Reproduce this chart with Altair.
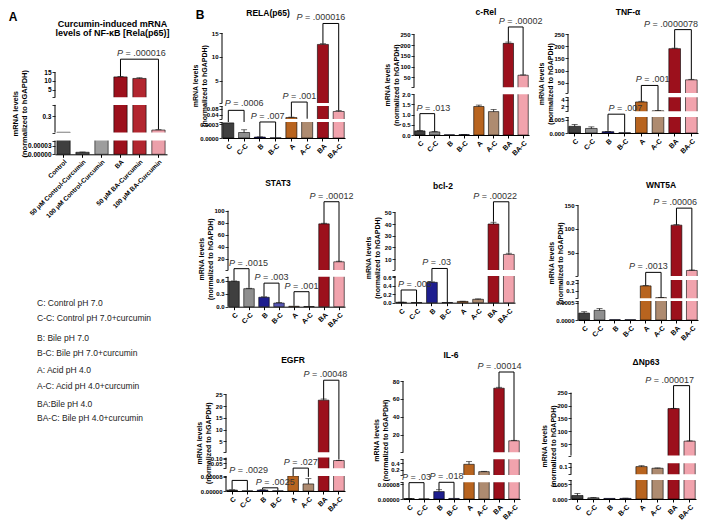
import altair as alt
import pandas as pd

FONT = "Liberation Sans, Arial, Helvetica, sans-serif"

# ---------------- data ----------------
CATS = ["C", "C-C", "B", "B-C", "A", "A-C", "BA", "BA-C"]
COLORS = ["#3f3f3f", "#8f8f8f", "#1e1e8e", "#5656b4", "#b8641f", "#ae8b70", "#9c101c", "#f1a3ad"]

A_CATS = ["Control", "50 μM Control-Curcumin", "100 μM Control-Curcumin",
          "BA", "50 μM BA-Curcumin", "100 μM BA-Curcumin"]
A_COLORS = ["#3f3f3f", "#4e4e4e", "#9d9d9d", "#9c101c", "#b2262f", "#eba0aa"]
A_VALS = [0.055, 0.000007, 0.01, 12.3, 11.4, 0.09]
A_ERRS = [0, 0.000001, 0, 0.2, 0.4, 0.005]
A_TICKS = [0, 0.00003, 0.3, 5, 10, 15]
A_TICK_LABELS = ["0.00000", "0.00003", "0.3", "5", "10", "15"]
A_BRACKETS = [("BA", "100 μM BA-Curcumin", 22.5, 12.6, 0.1, ".000016")]

RELA_VALS = [0.00033, 0.00012, 0.00002, 0.000004, 0.02, 0.005, 12.6, 0.062]
RELA_ERRS = [0, 0.00006, 0.000005, 0, 0.003, 0, 0.15, 0.006]
RELA_TICKS = [0, 0.0003, 0.04, 0.08, 5, 10, 15]
RELA_TICK_LABELS = ["0.0000", "0.0003", "0.04", "0.08", "5", "10", "15"]
RELA_BRACKETS = [("C", "C-C", 0.07, 0.00035, 0.0004, ".0006"),
                 ("B", "B-C", 0.0004, 0.00003, 0.000005, ".007"),
                 ("A", "A-C", 0.5, 0.025, 0.012, ".001"),
                 ("BA", "BA-C", 17, 12.8, 0.07, ".000016")]

CREL_VALS = [0.2, 0.15, 0.01, 0.02, 1.4, 1.15, 208, 60]
CREL_ERRS = [0.02, 0.02, 0, 0.005, 0.07, 0.1, 6, 2]
CREL_TICKS = [0, 0.5, 1.0, 1.5, 2.0, 50, 100, 150, 200, 250]
CREL_TICK_LABELS = ["0.0", "0.5", "1.0", "1.5", "2.0", "50", "100", "150", "200", "250"]
CREL_BRACKETS = [("C", "C-C", 1.05, 0.23, 0.18, ".013"),
                 ("BA", "BA-C", 284, 215, 63, ".00002")]

TNF_VALS = [0.0025, 0.0017, 0.0005, 0.0001, 3.3, 0.65, 190, 62]
TNF_ERRS = [0.0007, 0.0006, 0.0001, 0, 0.2, 0.05, 2, 2]
TNF_TICKS = [0, 0.005, 2, 4, 50, 100, 150, 200, 250]
TNF_TICK_LABELS = ["0.000", "0.005", "2", "4", "50", "100", "150", "200", "250"]
TNF_BRACKETS = [("B", "B-C", 0.25, 0.0008, 0.0002, ".007"),
                ("A", "A-C", 39, 3.6, 0.75, ".001"),
                ("BA", "BA-C", 268, 193, 65, ".0000078")]

STAT3_VALS = [0.59, 0.42, 0.22, 0.085, 0.01, 0.005, 78, 14.5]
STAT3_ERRS = [0.01, 0.01, 0.01, 0.01, 0, 0, 1, 1]
STAT3_TICKS = [0, 0.3, 0.6, 20, 40, 60, 80, 100]
STAT3_TICK_LABELS = ["0.0", "0.3", "0.6", "20", "40", "60", "80", "100"]
STAT3_BRACKETS = [("C", "C-C", 3, 0.61, 0.44, ".0015"),
                  ("B", "B-C", 0.55, 0.24, 0.1, ".003"),
                  ("A", "A-C", 0.35, 0.02, 0.01, ".001"),
                  ("BA", "BA-C", 115, 79, 15.5, ".00012")]

BCL2_VALS = [0.01, 0.005, 0.48, 0.005, 0.03, 0.08, 40, 14]
BCL2_ERRS = [0.003, 0, 0.01, 0, 0.005, 0.01, 1.5, 1]
BCL2_TICKS = [0, 0.2, 0.4, 0.6, 10, 20, 30, 40, 50]
BCL2_TICK_LABELS = ["0.0", "0.2", "0.4", "0.6", "10", "20", "30", "40", "50"]
BCL2_BRACKETS = [("C", "C-C", 0.3, 0.02, 0.01, ".005"),
                 ("B", "B-C", 2, 0.5, 0.01, ".03"),
                 ("BA", "BA-C", 59, 42, 15.5, ".00022")]

WNT_VALS = [0.0002, 0.00028, 0.00001, 0.00001, 0.16, 0.02, 108, 12]
WNT_ERRS = [0.00004, 0.00005, 0, 0, 0.006, 0.002, 1, 1]
WNT_TICKS = [0, 0.0005, 0.1, 0.2, 50, 100, 150]
WNT_TICK_LABELS = ["0.0000", "0.0005", "0.1", "0.2", "50", "100", "150"]
WNT_BRACKETS = [("A", "A-C", 8, 0.17, 0.025, ".0013"),
                ("BA", "BA-C", 144, 109, 13, ".00006")]

EGFR_VALS = [0.000005, 0.000001, 0.000005, 0.000001, 0.0001, 0.00004, 22.5, 0.08]
EGFR_ERRS = [0.000002, 0, 0.000002, 0, 0, 0.00003, 0.5, 0.002]
EGFR_TICKS = [0, 0.00008, 0.05, 0.10, 5, 10, 15, 20, 25]
EGFR_TICK_LABELS = ["0.00000", "0.00008", "0.05", "0.10", "5", "10", "15", "20", "25"]
EGFR_BRACKETS = [("C", "C-C", 0.00006, 0.00001, 0.000003, ".0029"),
                 ("B", "B-C", 0.000018, 0.00001, 0.000003, ".0025"),
                 ("A", "A-C", 0.003, 0.000086, 0.00008, ".027"),
                 ("BA", "BA-C", 31, 23, 0.09, ".00048")]

IL6_VALS = [0.000002, 0.0000005, 0.00004, 0.000003, 0.37, 0.15, 72, 13.5]
IL6_ERRS = [0.000001, 0, 0.00001, 0, 0.08, 0.01, 1, 0.5]
IL6_TICKS = [0, 0.00008, 0.2, 0.4, 20, 40, 60, 80]
IL6_TICK_LABELS = ["0.00000", "0.00008", "0.2", "0.4", "20", "40", "60", "80"]
IL6_BRACKETS = [("C", "C-C", 0.000088, 0.000004, 0.000001, ".03"),
                ("B", "B-C", 0.0002, 0.00005, 0.000004, ".018"),
                ("BA", "BA-C", 90, 73, 14, ".00014")]

NP63_VALS = [0.0012, 0.0004, 0.0002, 0.0002, 0.1, 0.085, 188, 62]
NP63_ERRS = [0.0007, 0.0001, 0, 0.0001, 0.008, 0.003, 1, 1]
NP63_TICKS = [0, 0.005, 0.1, 50, 100, 150, 200, 250]
NP63_TICK_LABELS = ["0.000", "0.005", "0.1", "50", "100", "150", "200", "250"]
NP63_BRACKETS = [("BA", "BA-C", 277, 190, 63, ".000017")]

LEGEND_LINES = ["C: Control pH 7.0", "C-C: Control pH 7.0+curcumin",
                "B: Bile pH 7.0", "B-C: Bile pH 7.0+curcumin",
                "A: Acid pH 4.0", "A-C: Acid pH 4.0+curcumin",
                "BA:Bile pH 4.0", "BA-C: Bile pH 4.0+curcumin"]

# ---------------- layout ----------------
COLW = [125, 135, 133, 130]
ROWH = [120, 120, 135]
YTITLE = ["mRNA levels", "(normalized to hGAPDH)"]
CW = {"P": 0.667, " ": 0.278, "=": 0.584, ".": 0.278}


def fmtnum(v):
    s = format(float(v), ".12f").rstrip("0").rstrip(".")
    return s if s else "0"


def text_w(s, fs):
    return fs * sum(CW.get(ch, 0.556) for ch in s)


def panel(cats, colors, vals, errs, ticks, tick_labels, brackets, L):
    segs, gaps = L["segs"], L["gaps"]
    W, H, base, ax = L["W"], L["H"], L["base"], L["ax"]
    a, b = L["xr"]
    pi, po = L.get("pi", 0.3), L.get("po", 0.05)
    dom, rng = [], []
    y = base
    for k, (lo, hi, h) in enumerate(segs):
        if k:
            y -= gaps[k - 1]
        dom += [lo, hi]
        rng += [y, y - h]
        y -= h
    ysc = alt.Scale(domain=dom, range=rng, nice=False, zero=False)
    xsc = alt.Scale(domain=cats, range=[a, b], paddingInner=pi, paddingOuter=po)

    caps = []
    for lo, hi, h in segs:
        for v in (lo, hi):
            if all(abs(v - t) > 1e-15 for t in ticks) and v not in caps:
                caps.append(v)
    tvals = sorted(list(ticks) + caps)
    expr = ""
    for v, s in zip(ticks, tick_labels):
        expr += f"datum.value == {fmtnum(v)} ? '{s}' : "
    expr += "''"

    yaxis = alt.Axis(values=tvals, labelExpr=expr, domain=False, grid=False,
                     tickSize=3, tickColor="black", tickWidth=0.8,
                     labelFontSize=L.get("ylab", 6), labelFontWeight="bold",
                     labelColor="black", labelPadding=1, labelOverlap=False,
                     labelFont=FONT, title=YTITLE, titleFont=FONT,
                     titleFontSize=L.get("ytitle", 7), titleFontWeight="bold",
                     titleColor="black", titlePadding=L.get("tpad", 1),
                     titleLineHeight=L.get("lh", 8.5),
                     minExtent=L.get("ext", 14), maxExtent=L.get("ext", 14),
                     offset=-ax)
    xaxis = alt.Axis(labelAngle=-45, labelFontSize=L.get("xlab", 7),
                     labelFontWeight="bold", labelColor="black", labelFont=FONT,
                     labelPadding=1, tickSize=3, tickColor="black",
                     domainColor="black", domainWidth=1, grid=False, title=None,
                     offset=base - H, labelLimit=200)

    def X():
        return alt.X("cat:N", scale=xsc, sort=cats, axis=xaxis)

    def Y(f):
        return alt.Y(f, scale=ysc, axis=yaxis)

    df = pd.DataFrame({"cat": cats, "v": vals, "err": errs, "col": colors})
    df["top"] = df["v"] + df["err"]
    edf = df[df["err"] > 0]

    bars = alt.Chart(df).mark_bar(stroke="black", strokeWidth=0.6).encode(
        x=X(), y=Y("v:Q"), color=alt.Color("col:N", scale=None))
    erule = alt.Chart(edf).mark_rule(color="black", strokeWidth=0.8).encode(
        x=X(), y=Y("v:Q"), y2="top:Q")
    ecap = alt.Chart(edf).mark_tick(color="black", thickness=0.8, size=6).encode(
        x=X(), y=Y("top:Q"))

    mdf = pd.DataFrame({"lo": [segs[k][1] for k in range(len(segs) - 1)],
                        "hi": [segs[k + 1][0] for k in range(len(segs) - 1)]})
    mask = alt.Chart(mdf).mark_rect(fill="white").encode(
        x=alt.value(ax + 0.6), x2=alt.value(b + 1), y=Y("lo:Q"), y2="hi:Q")
    sdf = pd.DataFrame({"lo": [s[0] for s in segs], "hi": [s[1] for s in segs]})
    segrule = alt.Chart(sdf).mark_rule(color="black", strokeWidth=1).encode(
        x=alt.value(ax), y=Y("lo:Q"), y2="hi:Q")

    rows = []
    for k, (ci, cj, lev, le, re_, _) in enumerate(brackets):
        rows += [(k, 0, ci, le), (k, 1, ci, lev), (k, 2, cj, lev), (k, 3, cj, re_)]
    bdf = pd.DataFrame(rows, columns=["id", "o", "cat", "y"])
    blines = alt.Chart(bdf).mark_line(color="black", strokeWidth=1).encode(
        x=X(), y=Y("y:Q"), detail="id:N", order="o:Q")

    n = len(cats)
    step = (b - a) / (n - pi + 2 * po)
    fs = L.get("pfs", 9)
    layers = [bars, erule, ecap, mask, segrule, blines]
    ldx = L.get("ldx", [0] * len(brackets))
    ldy = L.get("ldy", [-3] * len(brackets))
    for k, (ci, cj, lev, le, re_, ptxt) in enumerate(brackets):
        i, j = cats.index(ci), cats.index(cj)
        full = "P = " + ptxt
        tw = text_w(full, fs)
        d0 = (j - i) * step / 2 + ldx[k] - tw / 2
        d1 = d0 + text_w("P ", fs)
        tdf = pd.DataFrame({"cat": [ci], "y": [lev], "t": ["P"], "r": ["= " + ptxt]})
        layers.append(alt.Chart(tdf).mark_text(
            align="left", baseline="alphabetic", dx=d0, dy=ldy[k], fontSize=fs,
            fontStyle="italic", font=FONT, color="#333").encode(
            x=X(), y=Y("y:Q"), text="t:N"))
        layers.append(alt.Chart(tdf).mark_text(
            align="left", baseline="alphabetic", dx=d1, dy=ldy[k], fontSize=fs,
            font=FONT, color="#333").encode(
            x=X(), y=Y("y:Q"), text="r:N"))
    extra = list(L.get("extra", []))
    if L.get("title"):
        tx, ty = L["tpos"]
        extra.append((L["title"], tx, ty, 8.5, "bold", "center"))
    for (txt, tx, ty, tfs, tw_, al) in extra:
        layers.append(alt.Chart(pd.DataFrame({"t": [txt]})).mark_text(
            align=al, baseline="middle", fontSize=tfs, fontWeight=tw_, font=FONT,
            color="black").encode(x=alt.value(tx), y=alt.value(ty), text="t:N"))

    return alt.layer(*layers).properties(width=W, height=H)


A_L = dict(segs=[(0, 0.0000475, 13.7), (0.05, 0.48, 27.7), (0.6, 15, 25)], gaps=[8, 7.7],
           W=COLW[0], H=ROWH[0], base=138.3, ax=0, xr=(0, 112), pi=0.3, po=0.1,
           ylab=6.5, ytitle=7.5, lh=9, ext=25, tpad=2, xlab=6.5, ldx=[2],
           extra=[("A", -42, 1, 12, "bold", "center"),
                  ("Curcumin-induced mRNA", 57.5, 8, 9, "bold", "center"),
                  ("levels of NF-κB [Rela(p65)]", 57.5, 17.3, 9, "bold", "center")])
RELA_L = dict(segs=[(0, 0.00035, 16), (0.01, 0.1, 13), (0.3, 15, 70)], gaps=[3, 3],
              W=COLW[1], H=ROWH[0], base=122, ax=2, xr=(2, 125), title="RELA(p65)",
              tpos=(48, -3.5), ldx=[8, 0, 0, -10], ldy=[-4, -3, -3, -3],
              extra=[("B", -20, -1, 12, "bold", "center")])
CREL_L = dict(segs=[(0, 2.0, 40.7), (4, 250, 53)], gaps=[7],
              W=COLW[2], H=ROWH[0], base=119, ax=19, xr=(19, 134), title="c-Rel",
              tpos=(91, -4), ldx=[6, 5])
TNF_L = dict(segs=[(0, 0.006, 16), (0.5, 4.7, 14), (8, 250, 59)], gaps=[5.7, 4.3],
             W=COLW[3], H=ROWH[0], base=117, ax=0, xr=(0, 130), title="TNF-α",
             tpos=(60, -4), ldx=[9, 3, -12])
STAT3_L = dict(segs=[(0, 0.7, 30), (0.8, 100, 59.3)], gaps=[6.7],
               W=COLW[1], H=ROWH[1], base=116.7, ax=8, xr=(8, 125), title="STAT3",
               tpos=(58, -7), ldx=[7, 0, 0, 0])
BCL2_L = dict(segs=[(0, 0.63, 26.7), (0.7, 50, 57.7)], gaps=[6],
              W=COLW[2], H=ROWH[1], base=112.7, ax=0, xr=(0, 120), title="bcl-2",
              tpos=(48, -4), ldx=[6, -3, -6])
WNT_L = dict(segs=[(0, 0.00055, 19), (0.012, 0.23, 18.3), (0.3, 150, 70.7)], gaps=[2.7, 4],
             W=COLW[3], H=ROWH[1], base=130, ax=10, xr=(10, 130), title="WNT5A",
             tpos=(93, -5), ldx=[-5, -9])
EGFR_L = dict(segs=[(0, 0.000085, 15), (0.001, 0.11, 10.7), (0.3, 25, 58)], gaps=[7.7, 5.3],
              W=COLW[1], H=ROWH[2], base=127, ax=6, xr=(6, 125), title="EGFR",
              tpos=(73, -4), ldx=[9, 5, 0, -6], ldy=[-7, -3, -3, -3])
IL6_L = dict(segs=[(0, 0.00009, 16.7), (0.05, 0.52, 15.7), (0.7, 80, 71.3)], gaps=[7.3, 7],
             W=COLW[2], H=ROWH[2], base=135, ax=8, xr=(8, 125), title="IL-6",
             tpos=(56, -9), ldx=[0, 0, -7])
NP63_L = dict(segs=[(0, 0.0065, 19), (0.03, 0.13, 11), (6, 250, 63)], gaps=[5.7, 7.7],
              W=COLW[3], H=ROWH[2], base=135, ax=3, xr=(3, 128), title="ΔNp63",
              tpos=(78, -2), ldx=[-12])

pA = panel(A_CATS, A_COLORS, A_VALS, A_ERRS, A_TICKS, A_TICK_LABELS, A_BRACKETS, A_L)
pRELA = panel(CATS, COLORS, RELA_VALS, RELA_ERRS, RELA_TICKS, RELA_TICK_LABELS, RELA_BRACKETS, RELA_L)
pCREL = panel(CATS, COLORS, CREL_VALS, CREL_ERRS, CREL_TICKS, CREL_TICK_LABELS, CREL_BRACKETS, CREL_L)
pTNF = panel(CATS, COLORS, TNF_VALS, TNF_ERRS, TNF_TICKS, TNF_TICK_LABELS, TNF_BRACKETS, TNF_L)
pSTAT3 = panel(CATS, COLORS, STAT3_VALS, STAT3_ERRS, STAT3_TICKS, STAT3_TICK_LABELS, STAT3_BRACKETS, STAT3_L)
pBCL2 = panel(CATS, COLORS, BCL2_VALS, BCL2_ERRS, BCL2_TICKS, BCL2_TICK_LABELS, BCL2_BRACKETS, BCL2_L)
pWNT = panel(CATS, COLORS, WNT_VALS, WNT_ERRS, WNT_TICKS, WNT_TICK_LABELS, WNT_BRACKETS, WNT_L)
pEGFR = panel(CATS, COLORS, EGFR_VALS, EGFR_ERRS, EGFR_TICKS, EGFR_TICK_LABELS, EGFR_BRACKETS, EGFR_L)
pIL6 = panel(CATS, COLORS, IL6_VALS, IL6_ERRS, IL6_TICKS, IL6_TICK_LABELS, IL6_BRACKETS, IL6_L)
pNP63 = panel(CATS, COLORS, NP63_VALS, NP63_ERRS, NP63_TICKS, NP63_TICK_LABELS, NP63_BRACKETS, NP63_L)

LEG_POS = [113, 128, 148, 163, 180, 196, 214, 228]
legend = alt.Chart(pd.DataFrame({"t": LEGEND_LINES, "p": LEG_POS})).mark_text(
    align="left", baseline="middle", fontSize=8.5, font=FONT, color="#222").encode(
    x=alt.value(-18),
    y=alt.Y("p:Q", scale=alt.Scale(domain=[0, 100], range=[0, 100], nice=False, zero=False), axis=None),
    text="t:N").properties(width=COLW[0], height=ROWH[1])

filler = alt.Chart(pd.DataFrame({"t": [""]})).mark_text().encode(
    x=alt.value(0), y=alt.value(0), text="t:N").properties(width=COLW[0], height=ROWH[2])

chart = alt.concat(
    pA, pRELA, pCREL, pTNF,
    legend, pSTAT3, pBCL2, pWNT,
    filler, pEGFR, pIL6, pNP63,
    columns=4, spacing={"row": 54, "column": 40}, bounds="flush", align="each",
).properties(padding=0, background="white").configure_view(strokeWidth=0)

chart.save("out.html", embed_options={"renderer": "svg", "actions": False})
